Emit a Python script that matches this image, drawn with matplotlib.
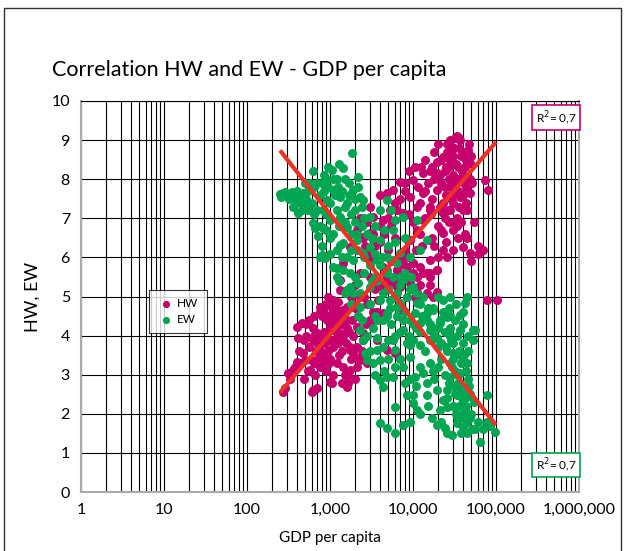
import numpy as np
import matplotlib
matplotlib.use("Agg")
import matplotlib.pyplot as plt
from matplotlib.ticker import FuncFormatter, LogLocator, NullFormatter
from matplotlib.lines import Line2D

plt.rcParams['font.family'] = ['Lato', 'DejaVu Sans']

# HW index against GDP per capita (USD)
hw_gdp = [270, 290, 310, 350, 400, 360, 400, 460, 410, 575, 600, 630, 660, 700, 700, 630, 600, 760, 830, 870,
          800, 830, 950, 1000, 1050, 1090, 1200, 1250, 1320, 1320, 1600, 1600, 1650, 1650, 1750, 1750, 1900, 2130,
          2180, 2300, 2500, 3700, 4850, 6050, 760, 830, 1200, 1000, 1320, 1750, 2130, 1000, 1320, 1600, 3300, 3000,
          3700, 4350, 2500, 1200, 2800, 1440, 700, 900, 1100, 1400, 560, 500, 470, 440, 520, 1000, 1500, 2000, 1900,
          2200, 2600, 2800, 3500, 3000,
          330, 380, 420, 480, 520, 560, 620, 650, 680, 720, 750, 780, 850, 880, 920, 950, 980, 1050, 1150, 1180,
          1250, 1300, 1350, 1450, 1500, 1550, 1700, 1800, 1850, 2000, 2100, 2400, 2700, 650, 550, 900, 1100, 1400,
          480, 750, 1050, 1250, 1600, 2300, 2000, 1800, 900, 650,
          2300, 4350, 3500, 3700, 3300, 4350, 4850, 5250, 6450, 6950, 7600, 8500, 9150, 10000, 11200, 12100, 12100,
          14700, 14700, 15900, 17400, 19400, 19400, 10000, 10500, 11200, 7600, 7000, 6050, 3000, 2800, 4000, 5000,
          3300, 2500, 2650, 2300, 2800, 1750, 1440, 1320, 1600, 1900, 1440, 1100, 830, 1090, 800,
          32200, 37000, 29500, 46000, 48800, 23000, 19400, 19400, 13200, 10000, 6950, 5700, 4850, 9150, 13200, 19400,
          28000, 37000, 48800, 40000, 23000, 15900, 11200, 7600, 5250, 4350, 3000, 3300, 2500, 3000, 2130, 2500,
          13200, 23000, 15900, 11200, 9150, 40000, 48800, 73700, 80000, 69900, 30300, 23000, 15900, 10000, 7600,
          13200, 15900, 19400, 6450, 4850, 4000, 6450, 8500, 11200, 78000, 103000, 7600,
          25000, 30000, 35000, 27000, 33000, 40000, 42000, 36000, 26000, 44000, 15000, 17000, 21000, 30000, 34000,
          27000, 20000, 9000, 8000, 12000, 6000, 5000, 4000, 17000, 6000, 8000, 45000, 52000, 60000, 35000, 25000,
          50000, 42000,
          3000, 3500, 4000, 4500, 5500, 6500, 7000, 8000, 9000, 10500, 11500, 12500, 14000, 16000, 18000, 20000,
          22000, 24000, 28000, 31000, 34000, 38000, 42000, 47000, 50000, 30000, 35000, 40000, 25000, 22000, 18000,
          16000, 14000, 12000, 10000, 9000, 11000, 13000, 20000, 26000, 30000, 38000, 45000, 55000, 60000, 8000,
          9500, 12000, 7000, 5500, 4500, 3800, 6000, 16000, 18000, 24000, 28000, 32000, 36000, 44000, 48000, 26000,
          28000, 36000,
          21000, 24000, 27000, 29000, 33000, 39000, 43000, 17000, 19000, 23000, 31000, 35000, 41000, 14000, 16500,
          21500, 26500, 33500]
hw_val = [2.56, 2.66, 3.04, 3.07, 3.32, 3.12, 4.22, 4.32, 3.94, 3.12, 2.56, 2.61, 2.99, 2.66, 3.81, 3.89, 3.38,
          3.63, 3.55, 3.50, 3.30, 3.45, 4.99, 2.81, 2.79, 4.14, 3.96, 4.86, 5.17, 3.89, 4.40, 2.69, 2.79, 2.99, 3.12,
          3.63, 3.55, 3.20, 3.43, 3.38, 3.89, 3.89, 3.63, 3.55, 4.73, 4.60, 4.65, 4.22, 4.07, 3.71, 4.22, 4.53, 4.58,
          4.73, 4.60, 4.40, 4.53, 4.58, 4.07, 3.30, 3.30, 3.20, 4.07, 3.96, 3.71, 3.60, 3.70, 3.38, 3.55, 3.30, 4.00,
          3.40, 3.00, 2.90, 4.00, 4.50, 5.00, 4.80, 5.20, 5.50,
          2.90, 3.20, 3.60, 3.90, 4.30, 4.40, 4.20, 4.00, 3.60, 3.40, 3.20, 3.90, 4.10, 3.80, 4.40, 3.60, 3.30, 3.90,
          4.20, 4.50, 3.80, 3.50, 4.30, 4.00, 4.60, 3.80, 4.10, 3.40, 4.40, 4.70, 3.70, 3.60, 4.30, 3.30, 3.10, 3.10,
          3.00, 2.80, 2.90, 4.60, 4.70, 4.40, 4.20, 5.00, 5.30, 5.00, 4.80, 4.50,
          5.60, 5.75, 6.00, 4.60, 4.40, 4.50, 5.50, 5.35, 5.68, 6.00, 5.86, 5.75, 5.35, 5.60, 5.50, 5.75, 5.30,
          5.60, 5.10, 5.60, 5.00, 5.68, 5.12, 5.85, 4.99, 5.09, 4.65, 5.24, 5.00, 5.90, 6.20, 6.40, 6.20,
          6.60, 6.50, 6.30, 7.00, 6.90, 6.27, 5.86, 5.42, 5.17, 4.83, 4.65, 4.91, 4.65, 4.40, 4.50,
          9.05, 9.00, 8.82, 8.75, 8.41, 8.57, 8.44, 8.16, 8.16, 7.98, 7.93, 7.72, 7.65, 7.54, 7.65, 7.72,
          7.80, 7.54, 7.65, 7.21, 7.13, 7.21, 7.29, 7.13, 7.21, 6.96, 7.29, 7.03, 6.96, 6.62, 6.70, 6.52,
          6.96, 6.62, 6.44, 6.70, 6.44, 6.27, 6.11, 7.98, 7.72, 6.19, 6.19, 6.19, 5.93, 5.86, 6.00,
          5.60, 5.50, 5.68, 5.68, 5.50, 5.35, 5.24, 4.99, 5.09, 4.91, 4.91, 4.65,
          8.30, 8.60, 8.30, 8.00, 7.90, 8.10, 8.70, 8.80, 8.90, 8.50, 7.90, 7.50, 7.30, 7.40, 7.00,
          6.90, 6.80, 7.10, 7.70, 7.40, 7.40, 7.00, 7.60, 6.50, 6.50, 6.20, 7.20, 7.90, 6.30, 6.50, 6.40,
          5.90, 6.60,
          6.00, 6.30, 6.80, 6.60, 6.80, 7.20, 7.50, 7.90, 8.20, 8.30, 7.80, 8.30, 8.50, 8.20, 8.70, 8.90,
          8.50, 8.20, 8.50, 8.80, 9.10, 8.60, 8.30, 8.90, 8.60, 8.10, 7.70, 7.60, 7.60, 7.90, 8.00,
          7.30, 7.00, 6.60, 6.90, 6.00, 6.20, 6.30, 6.00, 6.00, 6.70, 6.90, 6.50, 6.90, 6.10, 5.50,
          5.20, 5.00, 5.80, 5.90, 5.20, 4.90, 5.40, 5.30, 6.30, 7.00, 7.20, 6.90, 7.30, 7.80, 8.00, 8.70,
          9.00, 9.05,
          8.10, 7.80, 8.30, 7.50, 8.40, 8.20, 7.40, 8.30, 8.10, 7.40, 7.60, 8.00, 7.90, 7.70, 7.10,
          6.70, 7.20, 6.80]

# EW index against GDP per capita (USD)
ew_gdp = [250, 270, 290, 350, 470, 700, 360, 440, 410, 460, 630, 950, 1440, 1850, 2180, 1050, 700, 920, 1090, 1320,
          1600, 1900, 2300, 630, 660, 830, 720, 1000, 1320, 1600, 830, 2500, 3000, 4000, 4850, 5700, 6050, 7600,
          11200, 760, 1090, 1440, 1600, 2130, 2500, 3000, 4000, 1200, 1750, 2300, 3000, 3500, 4850, 6450, 9150,
          12100, 14700, 7600, 10000, 11200, 17400, 21200, 25800, 28000,
          550, 800, 1200, 600, 1500, 1700, 900, 1200, 2000, 2600, 1800, 2000, 1000, 3500, 800, 950, 500, 380,
          260, 300, 320, 400, 450, 520, 580, 650, 750, 850, 900, 1000, 1100, 1150, 1250, 1400, 1500, 1700, 2000,
          2200, 2400, 1300, 1100, 900, 750, 650, 550, 1500, 1800, 2100, 2400, 2800, 3200, 1200, 1400, 1800, 2600,
          3000, 3500, 4200, 5000, 4500, 5500, 6000, 8000, 1000, 500, 850, 1300,
          800, 870, 1320, 1200, 1440, 1750, 1900, 2130, 1600, 1900, 2180, 2300, 2450, 2300, 2500, 2650, 2800, 3700,
          4850, 5700, 6950, 3700, 3300, 4850, 5250, 4350, 6450, 6950, 7600, 9150, 10500, 12100, 14700, 12100, 13200,
          15900, 10000, 8500, 6050, 5000, 4350, 3700, 3300, 4000, 4850, 4000, 4350, 5700, 7600, 9150, 9150, 10500,
          10000, 13200, 14700, 14700, 17400, 19400, 23000, 21200, 25800, 28000, 29500, 34000, 34000, 40000, 37000,
          37000, 37000, 40000, 44800, 42500, 37000, 56000, 28000, 25000, 22000, 20000, 17000, 30000, 45000, 46000,
          44800, 52900, 34000, 25800,
          4000, 4850, 6050, 7600, 9150, 6050, 8500, 11200, 10000, 19400, 24400, 29500, 34000, 40000, 48800, 44800,
          64000, 78000, 78000, 97000, 46000, 52900, 56000, 40000,
          3700, 4850, 5700, 6950, 9150, 8500, 6450, 5250, 4350, 4850, 6450, 7600, 10000, 12100, 14700, 17400, 21200,
          19400, 15900, 12100, 9150, 5700, 3700, 17400, 20000, 28000, 23000,
          2000, 2600, 3200, 4000, 5000, 6000, 7000, 8000, 9500, 11000, 3000, 3500, 4000, 5500, 6000, 7000, 8000,
          9000, 11000, 13000, 15000, 16000, 18000, 20000, 22000, 24000, 26000, 28000, 30000, 32000, 35000, 38000,
          40000, 42000, 44000, 48000, 50000, 55000, 60000, 36000, 32000, 30000, 27000, 24000, 20000, 18000, 16000,
          14000, 12000, 11000, 8000, 7000, 6000, 5000, 4500, 3500, 3000, 2800, 2200, 1800, 1500, 1300, 12000,
          15000, 17000, 22000, 26000, 38000, 45000, 52000, 70000, 85000, 40000, 34000, 28000, 33000,
          31000, 35000, 39000, 43000, 47000, 33000, 37000, 41000, 29000, 26000, 30000, 36000, 42000, 46000, 32000,
          38000, 23000, 27000]
ew_val = [7.62, 7.65, 7.67, 7.67, 7.65, 7.90, 7.29, 7.39, 7.13, 7.20, 8.20, 8.30, 8.29, 8.67, 8.06, 8.24, 7.20, 7.47,
          7.72, 7.54, 7.39, 7.72, 7.54, 6.88, 6.75, 6.75, 6.55, 6.96, 7.03, 6.78, 7.20, 7.47, 7.03, 7.20, 7.47, 6.70,
          6.96, 7.03, 6.96, 6.00, 5.75, 6.37, 6.00, 6.44, 6.11, 6.27, 6.44, 5.50, 5.24, 5.09, 5.24, 5.50, 5.68, 5.86,
          6.00, 6.19, 6.44, 5.42, 5.24, 4.83, 4.65, 4.32, 4.48, 4.99,
          7.70, 7.90, 8.00, 7.40, 8.00, 7.90, 7.10, 7.20, 7.20, 7.00, 6.60, 6.90, 6.50, 6.80, 6.30, 7.80, 7.90, 7.50,
          7.55, 7.60, 7.50, 7.70, 7.60, 7.50, 7.90, 7.80, 7.60, 7.70, 8.00, 7.40, 8.00, 7.60, 7.80, 7.70, 7.30, 7.60,
          7.50, 7.80, 7.30, 6.80, 6.60, 6.70, 6.80, 7.10, 7.20, 6.90, 7.10, 6.60, 6.80, 6.60, 6.50, 6.20, 6.00, 6.20,
          6.00, 5.80, 6.10, 6.00, 6.30, 6.70, 7.20, 6.40, 6.50, 6.10, 7.40, 8.10, 8.40,
          6.06, 5.98, 6.32, 5.73, 5.68, 5.60, 5.93, 6.19, 5.17, 5.09, 5.35, 4.73, 4.40, 4.14, 3.89, 3.55, 3.38, 5.93,
          6.01, 5.93, 6.11, 4.40, 4.20, 4.58, 4.90, 5.10, 4.73, 4.83, 4.14, 4.40, 4.58, 4.32, 4.58, 4.80, 4.99,
          4.14, 3.89, 3.80, 3.63, 3.90, 3.71, 3.63, 3.30, 3.37, 2.94, 2.86, 2.69, 2.94, 3.20, 3.45, 2.90, 2.94,
          2.48, 3.04, 2.79, 2.48, 3.10, 2.61, 2.35, 2.10, 2.60, 2.94, 3.20, 2.48, 2.69, 2.35, 3.04,
          3.50, 4.14, 4.60, 4.99, 4.83, 4.53, 4.14, 4.00, 3.70, 3.40, 3.70, 3.90, 3.55, 3.30, 2.90,
          2.43, 3.90, 1.92, 2.17,
          1.76, 1.64, 1.51, 1.71, 1.79, 2.17, 2.48, 2.10, 2.28, 1.71, 1.64, 1.46, 1.76, 1.66, 1.89, 1.51,
          1.28, 2.48, 1.79, 1.53, 4.00, 4.14, 1.60, 2.00,
          5.40, 5.60, 5.50, 5.50, 5.20, 5.00, 5.10, 4.70, 4.40, 4.50, 4.50, 4.40, 4.30, 4.10, 4.40, 4.20, 4.40,
          3.95, 3.90, 3.75, 3.75, 3.90, 3.95, 4.70, 5.00, 4.50, 4.90,
          5.50, 5.60, 5.40, 5.80, 5.20, 5.00, 5.30, 5.60, 5.50, 5.10, 4.80, 4.50, 4.90, 4.30, 4.00, 4.10, 4.60,
          4.00, 4.20, 4.50, 4.70, 4.30, 4.00, 4.20, 3.80, 4.10, 3.60, 3.30, 3.80, 3.10, 2.80, 3.30,
          3.80, 2.60, 2.20, 2.50, 2.00, 2.30, 1.80, 2.20, 2.50, 2.20, 2.80, 3.00, 3.20, 2.90, 3.30,
          3.60, 3.20, 2.70, 2.80, 3.40, 3.20, 3.40, 3.10, 3.00, 3.60, 4.00, 4.50, 4.80, 5.10, 5.40, 2.00,
          2.20, 1.90, 1.80, 1.50, 1.50, 1.80, 1.60, 1.60, 1.70, 4.30, 4.00, 4.20, 4.80,
          2.70, 3.00, 2.40, 3.10, 2.70, 2.00, 1.90, 3.50, 3.90, 2.40, 3.40, 3.60, 2.10, 3.60, 4.40,
          2.60, 4.60, 4.70]

# regression lines: value = slope * log10(gdp) + intercept
hw_fit = (2.46, -3.35)
ew_fit = (-2.70, 15.21)
fit_range = (250, 100000)
r2_text = "R$^2$= 0,7"

magenta = "#c8006e"
green = "#00a651"
red = "#ee3124"


def main():
  fig = plt.figure(figsize=(6.3, 5.51), dpi=100)
  ax = fig.add_axes([0.1286, 0.107, 0.7905, 0.7097])

  # page frame, open at the bottom
  fx = [4 / 630, 4 / 630, 621 / 630, 621 / 630]
  fy = [0.0, 1 - 8 / 551, 1 - 8 / 551, 0.0]
  fig.lines.append(Line2D(fx, fy, transform=fig.transFigure, color="#333333", lw=1.0))

  ax.scatter(hw_gdp, hw_val, s=42, color=magenta, linewidths=0, zorder=3, label="HW")
  ax.scatter(ew_gdp, ew_val, s=42, color=green, linewidths=0, zorder=4, label="EW")

  xs = np.logspace(np.log10(fit_range[0]), np.log10(fit_range[1]), 50)
  ax.plot(xs, hw_fit[0] * np.log10(xs) + hw_fit[1], color=red, lw=3, zorder=5, solid_capstyle="butt")
  ax.plot(xs, ew_fit[0] * np.log10(xs) + ew_fit[1], color=red, lw=3, zorder=5, solid_capstyle="butt")

  ax.set_xscale("log")
  ax.set_xlim(1, 1e6)
  ax.set_ylim(0, 10)
  ax.xaxis.set_major_locator(LogLocator(base=10, numticks=10))
  ax.xaxis.set_minor_locator(LogLocator(base=10, subs=np.arange(2, 10), numticks=20))
  ax.xaxis.set_minor_formatter(NullFormatter())
  ax.xaxis.set_major_formatter(FuncFormatter(lambda v, p: f"{int(round(v)):,}"))
  ax.set_yticks(np.arange(0, 11, 1))

  ax.grid(True, which="both", axis="x", color="black", lw=0.8, zorder=0)
  ax.grid(True, which="major", axis="y", color="black", lw=0.8, zorder=0)
  ax.set_axisbelow(True)
  ax.tick_params(which="both", length=0, labelsize=11.5, pad=8)

  for side in ["left", "bottom", "right"]:
    ax.spines[side].set_color("#aaaaaa")
    ax.spines[side].set_linewidth(1.5)
  ax.spines["top"].set_color("black")
  ax.spines["top"].set_linewidth(0.8)

  ax.set_xlabel("GDP per capita", fontsize=11, labelpad=10)
  ax.set_ylabel("HW, EW", fontsize=13, labelpad=8)
  fig.text(52 / 630, 1 - 70 / 551, "Correlation HW and EW - GDP per capita", fontsize=15.5, va="center", ha="left")

  leg = ax.legend(loc="upper left", bbox_to_anchor=(0.124, 0.532), frameon=True, fancybox=False,
                  fontsize=8.5, handletextpad=0.2, borderpad=0.7, labelspacing=0.4, markerscale=0.8,
                  handlelength=1.5)
  leg.get_frame().set_edgecolor("black")
  leg.get_frame().set_linewidth(0.8)
  leg.set_zorder(10)

  ax.text(0.995, 0.98, r2_text, transform=ax.transAxes, ha="right", va="top", fontsize=8.5, zorder=10,
          bbox=dict(boxstyle="square,pad=0.3", facecolor="white", edgecolor=magenta, linewidth=1.2))
  ax.text(0.995, 0.092, r2_text, transform=ax.transAxes, ha="right", va="top", fontsize=8.5, zorder=10,
          bbox=dict(boxstyle="square,pad=0.3", facecolor="white", edgecolor=green, linewidth=1.2))

  fig.savefig("out.png", dpi=100)


if __name__ == '__main__':
  main()
